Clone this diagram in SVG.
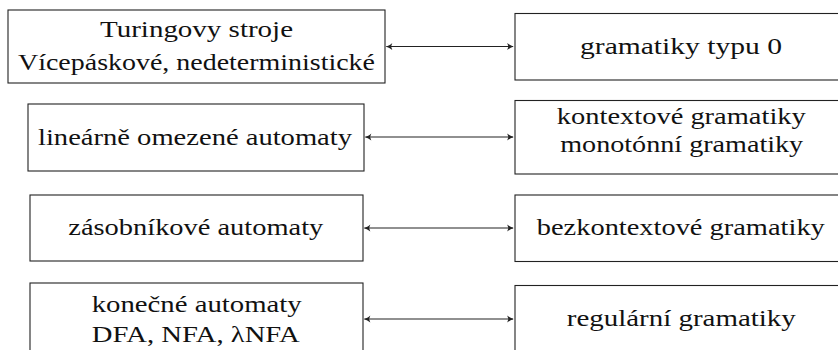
<svg xmlns="http://www.w3.org/2000/svg" width="838" height="350" viewBox="0 0 838 350">
<defs>
<style>
.box{fill:#fff;stroke:#222;stroke-width:1.1}
.t{font-family:"Liberation Serif","Times New Roman",serif;font-size:24px;fill:#111;text-anchor:middle}
.c{stroke:#222;stroke-width:1.2;fill:none;marker-start:url(#ah);marker-end:url(#ah)}
</style>
<marker id="ah" viewBox="-7 -5 9 10" markerWidth="9" markerHeight="10" refX="0" refY="0" orient="auto-start-reverse" markerUnits="userSpaceOnUse">
<path d="M0.8,0 C-1.8,-0.7 -4,-2 -5.8,-3.6 L-4.6,0 L-5.8,3.6 C-4,2 -1.8,0.7 0.8,0 Z" fill="#222"/>
</marker>
</defs>
<rect width="838" height="350" fill="#fff"/>
<g id="n1">
<rect class="box" x="8" y="10" width="377" height="73"/>
<text class="t" x="196.5" y="36.5" textLength="193" lengthAdjust="spacingAndGlyphs">Turingovy stroje</text>
<text class="t" x="196.5" y="70" textLength="357" lengthAdjust="spacingAndGlyphs">Vícepáskové, nedeterministické</text>
</g>
<g id="n2">
<rect class="box" x="28" y="104" width="336" height="67"/>
<text class="t" x="195" y="145" textLength="314" lengthAdjust="spacingAndGlyphs">lineárně omezené automaty</text>
</g>
<g id="n3">
<rect class="box" x="30" y="195" width="333" height="66"/>
<text class="t" x="195.8" y="235" textLength="255" lengthAdjust="spacingAndGlyphs">zásobníkové automaty</text>
</g>
<g id="n4">
<rect class="box" x="30" y="283" width="333" height="80"/>
<text class="t" x="196.7" y="311.5" textLength="210" lengthAdjust="spacingAndGlyphs">konečné automaty</text>
<text class="t" x="195.8" y="341.5" textLength="208" lengthAdjust="spacingAndGlyphs">DFA, NFA, λNFA</text>
</g>
<g id="m1">
<rect class="box" x="515" y="13.5" width="332" height="66.5"/>
<text class="t" x="681" y="53.5" textLength="202" lengthAdjust="spacingAndGlyphs">gramatiky typu 0</text>
</g>
<g id="m2">
<rect class="box" x="515" y="100.5" width="332" height="73.5"/>
<text class="t" x="681.3" y="123.5" textLength="249" lengthAdjust="spacingAndGlyphs">kontextové gramatiky</text>
<text class="t" x="681.7" y="152" textLength="243" lengthAdjust="spacingAndGlyphs">monotónní gramatiky</text>
</g>
<g id="m3">
<rect class="box" x="515" y="195" width="332" height="66.5"/>
<text class="t" x="680.8" y="235" textLength="288" lengthAdjust="spacingAndGlyphs">bezkontextové gramatiky</text>
</g>
<g id="m4">
<rect class="box" x="515" y="285.5" width="332" height="80"/>
<text class="t" x="681.3" y="326" textLength="229" lengthAdjust="spacingAndGlyphs">regulární gramatiky</text>
</g>
<g id="connectors">
<line class="c" x1="386.5" y1="46.5" x2="513" y2="46.5"/>
<line class="c" x1="365.5" y1="137" x2="513" y2="137"/>
<line class="c" x1="364.5" y1="228" x2="513" y2="228"/>
<line class="c" x1="364.5" y1="319" x2="513" y2="319"/>
</g>
</svg>
